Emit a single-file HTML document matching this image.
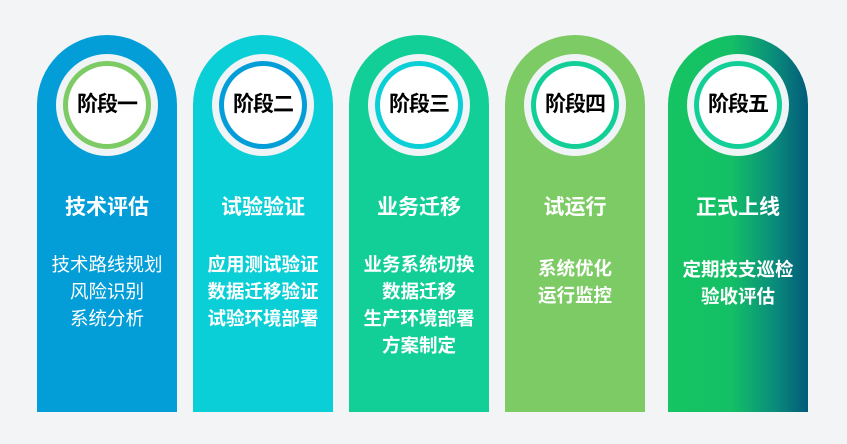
<!DOCTYPE html>
<html><head><meta charset="utf-8"><style>
*{margin:0;padding:0}
body{width:847px;height:444px;background:#f3f4f6;position:relative;overflow:hidden;font-family:"Liberation Sans","Noto Sans CJK SC",sans-serif}
.col{position:absolute;top:35px;width:140px;height:377px;border-radius:70px 70px 0 0;color:#fff;text-align:center}
.c1{left:37px;background:#039ed8}
.c2{left:193px;background:#0bcfd6}
.c3{left:349px;background:#12cf98}
.c4{left:505px;background:#7dcb64}
.c5{left:668px;background:linear-gradient(90deg,#15c462 0%,#14c066 45%,#0a8e7a 75%,#035a7a 100%)}
.ring{position:absolute;left:19px;top:19px;width:102px;height:102px;border-radius:50%;background:#f1f4f6}
.in{position:absolute;left:7px;top:7px;width:78px;height:78px;border-radius:50%;background:#fff;border:5px solid;line-height:78px;color:#000;font-weight:bold;font-size:21px;letter-spacing:-1px}
.t{position:absolute;left:0;width:140px;top:159px;font-size:21px;font-weight:bold;line-height:28px}
.b{position:absolute;left:-5px;width:150px;top:216px;font-size:18.5px;line-height:27px;font-weight:bold}
</style></head><body>
<div class="col c1"><div class="ring"><div class="in" style="border-color:#7dcb64">阶段一</div></div><div class="t">技术评估</div><div class="b" style="font-weight:normal">技术路线规划<br>风险识别<br>系统分析</div></div>
<div class="col c2"><div class="ring"><div class="in" style="border-color:#039ed8">阶段二</div></div><div class="t">试验验证</div><div class="b">应用测试验证<br>数据迁移验证<br>试验环境部署</div></div>
<div class="col c3"><div class="ring"><div class="in" style="border-color:#0bcfd6">阶段三</div></div><div class="t">业务迁移</div><div class="b">业务系统切换<br>数据迁移<br>生产环境部署<br>方案制定</div></div>
<div class="col c4"><div class="ring"><div class="in" style="border-color:#12cf98">阶段四</div></div><div class="t">试运行</div><div class="b" style="top:220px">系统优化<br>运行监控</div></div>
<div class="col c5"><div class="ring"><div class="in" style="border-color:#12cf98">阶段五</div></div><div class="t">正式上线</div><div class="b" style="top:221px">定期技支巡检<br>验收评估</div></div>
</body></html>
